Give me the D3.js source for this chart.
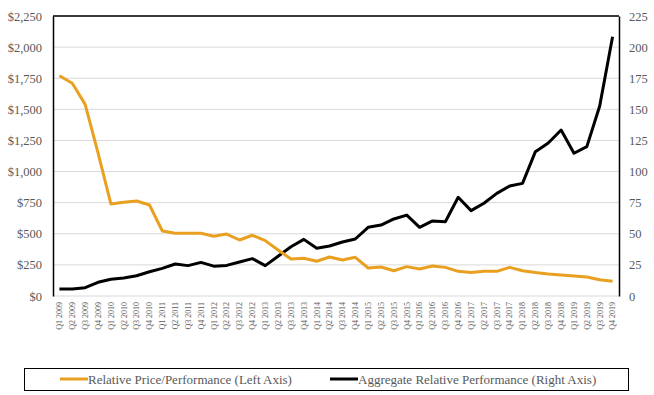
<!DOCTYPE html>
<html>
<head>
<meta charset="utf-8">
<script src="https://cdn.jsdelivr.net/npm/d3@7"></script>
<style>
  body { margin: 0; background: #fff; }
  svg { display: block; font-family: "Liberation Serif", "DejaVu Serif", serif; }
</style>
</head>
<body>
<svg id="chart" width="654" height="395"></svg>
<script>
// quarters Q1 2009 .. Q4 2019
const years = [2009, 2010, 2011, 2012, 2013, 2014, 2015, 2016, 2017, 2018, 2019];
const quarters = years.flatMap(yr => [1, 2, 3, 4].map(q => `Q${q} ${yr}`));

// Relative Price/Performance (left axis, $)
const priceValues = [
  1770, 1710, 1540, 1150, 740, 753, 763, 731, 522, 504, 504, 504,
  480, 498, 450, 488, 445, 370, 297, 303, 279, 313, 289, 311,
  225, 233, 203, 236, 217, 241, 230, 198, 188, 198, 198, 230,
  203, 188, 177, 169, 161, 153, 131, 118
];

// Aggregate Relative Performance (right axis)
const perfValues = [
  5.6, 5.6, 6.7, 11, 13.4, 14.5, 16.3, 19.5, 22.2, 25.7, 24.4, 27,
  24, 24.6, 27.3, 30, 24.4, 32, 39.6, 45.5, 38.3, 40.2, 43.4, 45.8,
  55.2, 57, 61.9, 65, 55.2, 60.3, 59.7, 79.3, 68.6, 74.5, 82.5, 88.4,
  90.5, 116, 123, 133.4, 114.7, 120, 152.7, 208.4
];

const leftTicks = [0, 250, 500, 750, 1000, 1250, 1500, 1750, 2000, 2250];
const rightTicks = [0, 25, 50, 75, 100, 125, 150, 175, 200, 225];

const seriesNames = ["Relative Price/Performance (Left Axis)", "Aggregate Relative Performance (Right Axis)"];
const seriesColors = ["#E9A021", "#000000"];

const plot = { left: 53, right: 619, top: 16, bottom: 296 };
const textColor = "#595959";

const svg = d3.select("#chart");

const x = d3.scaleBand()
  .domain(quarters)
  .range([plot.left, plot.right]);

const yLeft = d3.scaleLinear().domain([0, 2250]).range([plot.bottom, plot.top]);
const yRight = d3.scaleLinear().domain([0, 225]).range([plot.bottom, plot.top]);

// grid lines
svg.append("g")
  .selectAll("line")
  .data(leftTicks)
  .join("line")
  .attr("x1", plot.left).attr("x2", plot.right)
  .attr("y1", d => yLeft(d)).attr("y2", d => yLeft(d))
  .attr("stroke", "#d9d9d9")
  .attr("stroke-width", 1);

// left axis
const leftAxis = svg.append("g")
  .attr("transform", `translate(${plot.left},0)`)
  .call(d3.axisLeft(yLeft).tickValues(leftTicks).tickSize(0).tickPadding(11)
    .tickFormat(d => "$" + d3.format(",")(d)));
leftAxis.select(".domain").attr("stroke", "#000").attr("stroke-width", 1.5);
leftAxis.selectAll("text")
  .attr("fill", textColor)
  .style("font-size", "12.5px")
  .style("font-family", "Liberation Serif, serif");

// right axis
const rightAxis = svg.append("g")
  .attr("transform", `translate(${plot.right},0)`)
  .call(d3.axisRight(yRight).tickValues(rightTicks).tickSize(0).tickPadding(10));
rightAxis.select(".domain").attr("stroke", "#000").attr("stroke-width", 1.5);
rightAxis.selectAll("text")
  .attr("fill", textColor)
  .style("font-size", "12.5px")
  .style("font-family", "Liberation Serif, serif");

// top border
svg.append("line")
  .attr("x1", plot.left).attr("x2", plot.right)
  .attr("y1", plot.top).attr("y2", plot.top)
  .attr("stroke", "#000").attr("stroke-width", 1.5);

// bottom axis (category labels)
const bottomAxis = svg.append("g")
  .attr("transform", `translate(0,${plot.bottom})`)
  .call(d3.axisBottom(x).tickSize(0).tickPadding(0));
bottomAxis.select(".domain").remove();
bottomAxis.selectAll("text")
  .attr("transform", "rotate(-90)")
  .attr("x", -6)
  .attr("y", 0)
  .attr("dy", "0.35em")
  .attr("text-anchor", "end")
  .attr("fill", textColor)
  .style("font-size", "8px")
  .style("font-family", "Liberation Serif, serif");

// lines
const priceLine = d3.line()
  .x((d, i) => x(quarters[i]) + x.bandwidth() / 2)
  .y(d => yLeft(d));

const perfLine = d3.line()
  .x((d, i) => x(quarters[i]) + x.bandwidth() / 2)
  .y(d => yRight(d));

svg.append("path")
  .datum(perfValues)
  .attr("d", perfLine)
  .attr("fill", "none")
  .attr("stroke", seriesColors[1])
  .attr("stroke-width", 3)
  .attr("stroke-linejoin", "round");

svg.append("path")
  .datum(priceValues)
  .attr("d", priceLine)
  .attr("fill", "none")
  .attr("stroke", seriesColors[0])
  .attr("stroke-width", 3)
  .attr("stroke-linejoin", "round");

// legend
const legend = svg.append("g");
legend.append("rect")
  .attr("x", 24.5).attr("y", 368.5)
  .attr("width", 604).attr("height", 22)
  .attr("fill", "#fff")
  .attr("stroke", "#000")
  .attr("stroke-width", 1);

const legendX = [60, 330];
seriesNames.forEach((name, i) => {
  const g = legend.append("g").attr("transform", `translate(${legendX[i]},379)`);
  g.append("line")
    .attr("x1", 0).attr("x2", 28)
    .attr("stroke", seriesColors[i])
    .attr("stroke-width", 3);
  g.append("text")
    .attr("x", 28)
    .attr("y", 0)
    .attr("dy", "0.35em")
    .attr("fill", textColor)
    .style("font-size", "13px")
    .text(name);
});
</script>
</body>
</html>
